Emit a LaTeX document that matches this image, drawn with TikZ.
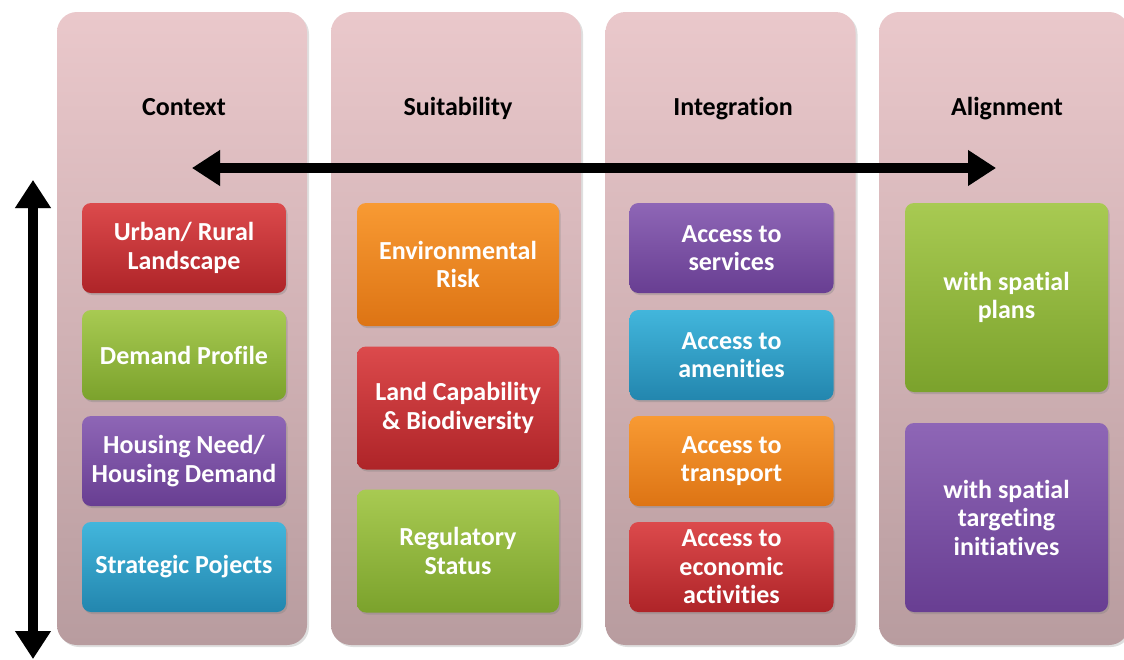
\documentclass[tikz,border=0pt]{standalone}
\usepackage{fontspec}
\setmainfont[Ligatures=NoCommon]{Carlito}
\usetikzlibrary{arrows.meta,shadows}
\definecolor{colT}{HTML}{EAC8CB}
\definecolor{colB}{HTML}{B89C9F}
\definecolor{redT}{HTML}{DC4A4C}
\definecolor{redB}{HTML}{AE2428}
\definecolor{grnT}{HTML}{A8CA52}
\definecolor{grnB}{HTML}{7BA22C}
\definecolor{purT}{HTML}{8E66B6}
\definecolor{purB}{HTML}{683E92}
\definecolor{cyaT}{HTML}{42B6DC}
\definecolor{cyaB}{HTML}{2386AE}
\definecolor{orgT}{HTML}{F89A33}
\definecolor{orgB}{HTML}{DD7414}
\tikzset{
  column/.style={rounded corners=20pt, top color=colT, bottom color=colB, draw=none,
    drop shadow={shadow xshift=2pt, shadow yshift=-2pt, opacity=0.25},
    minimum width=250pt, minimum height=633pt, inner sep=0pt},
  header/.style={font=\bfseries\fontsize{26}{30}\selectfont, text=black, anchor=base},
  box/.style={rounded corners=9pt, draw=none, text=white, align=center, inner sep=2pt,
    font=\bfseries\fontsize{26}{28.5}\selectfont,
    drop shadow={shadow xshift=1.5pt, shadow yshift=-2pt, opacity=0.35}},
  red/.style={top color=redT, bottom color=redB},
  grn/.style={top color=grnT, bottom color=grnB},
  pur/.style={top color=purT, bottom color=purB},
  cya/.style={top color=cyaT, bottom color=cyaB},
  org/.style={top color=orgT, bottom color=orgB},
  sbox/.style={box, minimum width=204pt, minimum height=90pt},
  mbox/.style={box, minimum width=202pt, minimum height=123pt},
  lbox/.style={box, minimum width=203pt, minimum height=189pt},
  bigarrow/.style={line width=10pt, {Triangle[length=28pt,width=34pt]}-{Triangle[length=28pt,width=34pt]}},
}
\begin{document}
\begin{tikzpicture}[x=1pt,y=-1pt]
\useasboundingbox (0,0) rectangle (1124,659);
\fill[white] (0,0) rectangle (1124,659);
\begin{scope}
\clip (0,0) rectangle (1124,659);
% columns
\node[column] (col1) at (182,328.5) {};
\node[column] (col2) at (456,328.5) {};
\node[column] (col3) at (730.5,328.5) {};
\node[column] (col4) at (1004,328.5) {};
% headers
\node[header] (h1) at (184,115) {Context};
\node[header] (h2) at (458,115) {Suitability};
\node[header] (h3) at (733,115) {Integration};
\node[header] (h4) at (1007,115) {Alignment};
% column 1
\node[sbox,red] (urban) at (184,248) {Urban/ Rural\\Landscape};
\node[sbox,grn] (demand) at (184,355) {Demand Profile};
\node[sbox,pur] (housing) at (184,461) {Housing Need/\\Housing Demand};
\node[sbox,cya] (strategic) at (184,567) {Strategic Pojects};
% column 2
\node[mbox,org] (env) at (458,264.5) {Environmental\\Risk};
\node[mbox,red] (land) at (458,408) {Land Capability\\\& Biodiversity};
\node[mbox,grn] (reg) at (458,551) {Regulatory\\Status};
% column 3
\node[sbox,pur] (serv) at (731.5,248) {Access to\\services};
\node[sbox,cya] (amen) at (731.5,355) {Access to\\amenities};
\node[sbox,org] (trans) at (731.5,461) {Access to\\transport};
\node[sbox,red] (econ) at (731.5,567) {Access to\\economic\\activities};
% column 4
\node[lbox,grn] (plans) at (1006.5,297.5) {with spatial\\plans};
\node[lbox,pur] (target) at (1006.5,517.5) {with spatial\\targeting\\initiatives};
% arrows
\coordinate (hl) at (192,168);
\coordinate (hr) at (996,168);
\coordinate (vt) at (33,180);
\coordinate (vb) at (33,659);
\draw[bigarrow, black!35, shift={(2pt,-2pt)}] (hl) -- (hr);
\draw[bigarrow, black] (hl) -- (hr);
\draw[bigarrow, black!35, shift={(2pt,-2pt)}] (vt) -- (vb);
\draw[bigarrow, black] (vt) -- (vb);
\end{scope}
\end{tikzpicture}
\end{document}
